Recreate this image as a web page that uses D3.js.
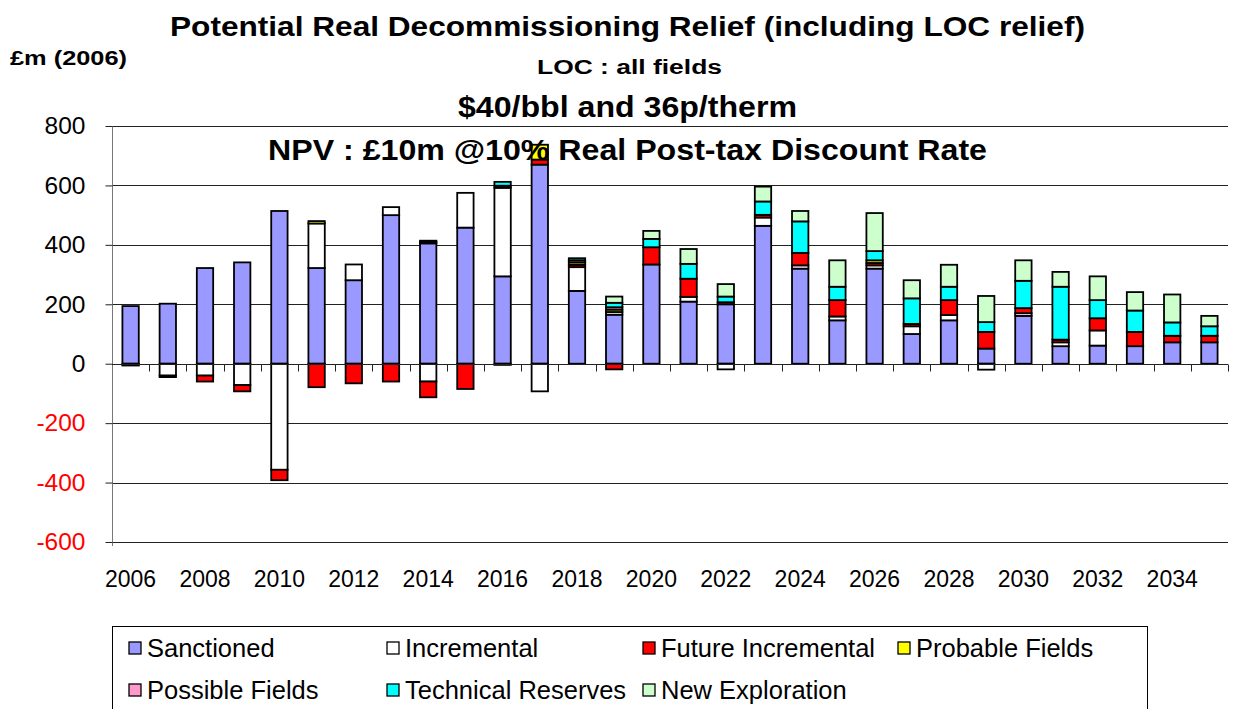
<!DOCTYPE html>
<html>
<head>
<meta charset="utf-8">
<script src="https://cdn.jsdelivr.net/npm/d3@7"></script>
<style>
  body { margin: 0; background: #fff; }
  svg { display: block; font-family: "Liberation Sans", Arial, sans-serif; }
</style>
</head>
<body>
<svg id="chart" width="1235" height="709"></svg>
<script>
// Data (£m, 2006 money)
const years = d3.range(2006, 2036);
const sanctioned     = [194, 202, 322, 341, 514, 322, 281, 500, 405, 458, 294, 670, 245, 165, 334, 209, 200, 464, 320, 146, 320, 100, 146, 51, 161, 59, 61, 59, 72, 72];
const incremental    = [-3, -40, -40, -72, -357, 150, 53, 27, -60, 117, 298, -93, 80, 9, 0, 16, -19, 28, 11, 13, 11, 26, 18, -20, 9, 13, 51, 0, 0, 0];
const futureIncr     = [-3, -5, -20, -21, -35, -79, -66, -60, -53, -85, 7, 17, 8, -19, 58, 61, 7, 9, 42, 55, 8, 8, 50, 56, 17, 9, 41, 48, 22, 22];
const probable       = [0, 0, 0, 0, 0, 8, 0, 0, 5, 0, -4, 50, 8, 8, 0, 0, 0, 0, 0, 0, 9, 0, 0, 0, 0, 0, 0, 0, 0, 0];
const possible       = [0, 0, 0, 0, 0, 0, 0, 0, 4, 0, 0, 0, 7, 8, 0, 0, 0, 0, 0, 0, 0, 0, 0, 0, 0, 0, 0, 0, 0, 0];
const technical      = [0, 0, 0, 0, 0, 0, 0, 0, 0, 0, 13, 0, 7, 15, 28, 50, 19, 45, 106, 45, 31, 86, 45, 33, 92, 178, 61, 72, 45, 32];
const newExploration = [0, 0, 0, 0, 0, 0, 0, 0, 0, 0, 0, 0, 0, 21, 27, 50, 42, 50, 35, 89, 128, 61, 74, 88, 69, 50, 80, 62, 94, 35];

const seriesNames  = ['Sanctioned', 'Incremental', 'Future Incremental', 'Probable Fields', 'Possible Fields', 'Technical Reserves', 'New Exploration'];
const seriesValues = [sanctioned, incremental, futureIncr, probable, possible, technical, newExploration];
const seriesColors = ['#9999FF', '#FFFFFF', '#FF0000', '#FFFF00', '#FF99CC', '#00FFFF', '#CCFFCC'];
const yTicks = [-600, -400, -200, 0, 200, 400, 600, 800];
const xLabels = years.filter(y => y % 2 === 0);

// table for d3.stack
const table = years.map((yr, i) => {
  let row = { year: yr };
  seriesNames.forEach((n, k) => row[n] = seriesValues[k][i]);
  return row;
});

const svg = d3.select('#chart');

const plotLeft = 112, plotRight = 1228, plotTop = 126, plotBottom = 542;

let x = d3.scaleBand()
  .domain(years)
  .range([plotLeft, plotRight])
  .paddingInner(0.56)
  .paddingOuter(0.28);

let y = d3.scaleLinear()
  .domain([-600, 800])
  .range([plotBottom, plotTop]);

// gridlines
svg.append('g')
  .selectAll('line')
  .data(yTicks)
  .enter()
  .append('line')
  .attr('x1', plotLeft).attr('x2', plotRight)
  .attr('y1', d => Math.round(y(d)) + 0.5)
  .attr('y2', d => Math.round(y(d)) + 0.5)
  .attr('stroke', '#222')
  .attr('stroke-width', 1);

// y axis (plain hyphen for negatives, like the original)
let yAxis = svg.append('g')
  .attr('transform', `translate(${plotLeft + 0.5},0)`)
  .call(d3.axisLeft(y).tickValues(yTicks).tickSize(7).tickPadding(20).tickFormat(d => String(d)));
yAxis.select('.domain').attr('stroke', '#777').attr('d', `M0,${plotTop}V${plotBottom + 4}`);
yAxis.selectAll('.tick line').attr('stroke', '#222');
yAxis.selectAll('.tick text')
  .attr('font-size', 24.5)
  .attr('font-family', '"Liberation Sans", Arial, sans-serif')
  .attr('fill', d => d < 0 ? '#FF0000' : '#000');

// stacked bars
const stack = d3.stack()
  .keys(seriesNames)
  .offset(d3.stackOffsetDiverging);
const layers = stack(table);

svg.append('g')
  .selectAll('g')
  .data(layers)
  .enter()
  .append('g')
  .attr('fill', (d, i) => seriesColors[i])
  .selectAll('rect')
  .data(d => d.filter(p => p[1] - p[0] !== 0))
  .enter()
  .append('rect')
  .attr('x', d => x(d.data.year))
  .attr('width', x.bandwidth())
  .attr('y', d => y(Math.max(d[0], d[1])))
  .attr('height', d => Math.abs(y(d[0]) - y(d[1])))
  .attr('stroke', '#000')
  .attr('stroke-width', 1.8);

// x axis line at zero with ticks on category boundaries
const zeroY = Math.round(y(0)) + 0.5;
const step = x.step();
const boundaries = d3.range(years.length + 1).map(i => plotLeft + i * step);
svg.append('line')
  .attr('x1', plotLeft).attr('x2', plotRight)
  .attr('y1', zeroY).attr('y2', zeroY)
  .attr('stroke', '#222');
svg.append('g')
  .selectAll('line')
  .data(boundaries.slice(1))
  .enter()
  .append('line')
  .attr('x1', d => Math.round(d) + 0.5).attr('x2', d => Math.round(d) + 0.5)
  .attr('y1', zeroY).attr('y2', zeroY + 7)
  .attr('stroke', '#222');

// x labels
svg.append('g')
  .selectAll('text')
  .data(xLabels)
  .enter()
  .append('text')
  .attr('x', d => x(d) + x.bandwidth() / 2)
  .attr('y', 587)
  .attr('text-anchor', 'middle')
  .attr('font-size', 23)
  .text(d => d);

// titles (drawn over the bars, as in the original)
const titles = [
  { t: 'Potential Real Decommissioning Relief (including LOC relief)', x: 170, y: 36, w: 915, s: 28 },
  { t: '£m (2006)', x: 10, y: 65, w: 117, s: 21 },
  { t: 'LOC : all fields', x: 537, y: 74, w: 185, s: 20 },
  { t: '$40/bbl and 36p/therm', x: 458, y: 117, w: 339, s: 29 },
  { t: 'NPV : £10m @10% Real Post-tax Discount Rate', x: 268, y: 160, w: 719, s: 29 }
];
svg.append('g')
  .selectAll('text')
  .data(titles)
  .enter()
  .append('text')
  .attr('x', d => d.x)
  .attr('y', d => d.y)
  .attr('font-size', d => d.s)
  .attr('font-weight', 'bold')
  .attr('textLength', d => d.w)
  .attr('lengthAdjust', 'spacingAndGlyphs')
  .text(d => d.t);

// legend
svg.append('rect')
  .attr('x', 112.5).attr('y', 626.5)
  .attr('width', 1035).attr('height', 100)
  .attr('fill', 'none')
  .attr('stroke', '#000');

const legendCols = [129, 387, 643, 898];
const legendRows = [648, 690];
let legend = svg.append('g')
  .selectAll('g')
  .data(seriesNames)
  .enter()
  .append('g')
  .attr('transform', (d, i) => {
    // Excel places items row by row, 4 per row
    return `translate(${legendCols[i % 4]}, ${legendRows[Math.floor(i / 4)]})`;
  });
legend.append('rect')
  .attr('x', 0).attr('y', -6)
  .attr('width', 12).attr('height', 12)
  .attr('fill', (d, i) => seriesColors[i])
  .attr('stroke', '#000')
  .attr('stroke-width', 1.3);
legend.append('text')
  .attr('x', 18)
  .attr('y', 9)
  .attr('font-size', 25.5)
  .text(d => d);
</script>
</body>
</html>
